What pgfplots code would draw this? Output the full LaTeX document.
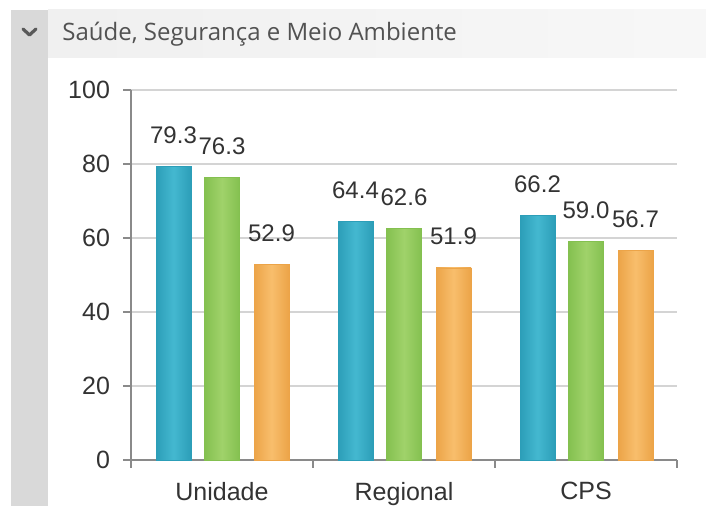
\documentclass[border=0pt]{standalone}
\usepackage{pgfplots}
\pgfplotsset{compat=1.18}
\usepackage{fontspec}
\setmainfont{Liberation Sans}
\newfontfamily\titlefont{Open Sans}
\definecolor{blueE}{HTML}{2C9EB8}
\definecolor{blueM}{HTML}{44B8D0}
\definecolor{greenE}{HTML}{84C050}
\definecolor{greenM}{HTML}{A0D26A}
\definecolor{orangeE}{HTML}{ECA448}
\definecolor{orangeM}{HTML}{F8BE6C}
\definecolor{txt}{HTML}{333333}
\definecolor{gridc}{HTML}{D4D4D4}
\definecolor{axisc}{HTML}{8A8A8A}
\pgfplotsset{
  sblue/.style={bar shift=-24.25pt, draw=blueE, line width=0.4pt, left color=blueE, right color=blueE, middle color=blueM},
  sgreen/.style={bar shift=0pt, draw=greenE, line width=0.4pt, left color=greenE, right color=greenE, middle color=greenM},
  sorange/.style={bar shift=24.75pt, draw=orangeE, line width=0.4pt, left color=orangeE, right color=orangeE, middle color=orangeM},
}
\begin{document}
\begin{tikzpicture}[x=0.5pt,y=0.5pt]
\useasboundingbox (0,0) rectangle (706,506);
\fill[white] (0,0) rectangle (706,506);
\fill[left color={black!6}, right color={black!3}] (48,448) rectangle (706,496);
\fill[black!15] (11,0) rectangle (48,496);
\draw[black!65, line width=1.6pt, line cap=round, line join=round] (23,477) -- (29.5,471) -- (36,477);
\node[anchor=base west, inner sep=0pt, text=black!68, font=\titlefont\fontsize{12}{14}\selectfont] at (62,465) {Saúde, Segurança e Meio Ambiente};
\begin{axis}[
  at={(65.5pt,23pt)}, anchor=south west,
  scale only axis, width=273pt, height=185pt,
  xmin=-0.5, xmax=2.5, ymin=0, ymax=100,
  ytick={0,20,40,60,80,100},
  xtick={0,1,2}, xticklabels={Unidade,Regional,CPS},
  minor xtick={-0.5,0.5,1.5,2.5},
  axis x line*=bottom, axis y line*=left,
  axis line style={axisc, line width=0.8pt},
  tick align=outside,
  major tick length=4pt, minor tick length=4pt,
  x tick style={draw=none}, minor x tick style={draw=axisc, line width=0.8pt},
  y tick style={axisc, line width=0.8pt},
  ymajorgrids, grid style={gridc, line width=0.6pt},
  /pgf/number format/assume math mode=true,
  ticklabel style={font=\fontsize{12.5}{14}\selectfont, text=txt},
  yticklabel style={xshift=-3pt},
  xticklabel style={yshift=-3.5pt},
  ybar, bar width=17.5pt,
  nodes near coords,
  nodes near coords style={font=\fontsize{12}{13}\selectfont, text=txt, anchor=base, yshift=11.5pt,
    /pgf/number format/.cd, fixed, fixed zerofill, precision=1, assume math mode=true},
  clip=false,
]
\addplot[sblue] coordinates {(0,79.3)};
\addplot[sblue] coordinates {(1,64.4)};
\addplot[sblue] coordinates {(2,66.2)};
\addplot[sgreen] coordinates {(0,76.3)};
\addplot[sgreen] coordinates {(1,62.6)};
\addplot[sgreen] coordinates {(2,59.0)};
\addplot[sorange] coordinates {(0,52.9)};
\addplot[sorange] coordinates {(1,51.9)};
\addplot[sorange] coordinates {(2,56.7)};
\end{axis}
\end{tikzpicture}
\end{document}
